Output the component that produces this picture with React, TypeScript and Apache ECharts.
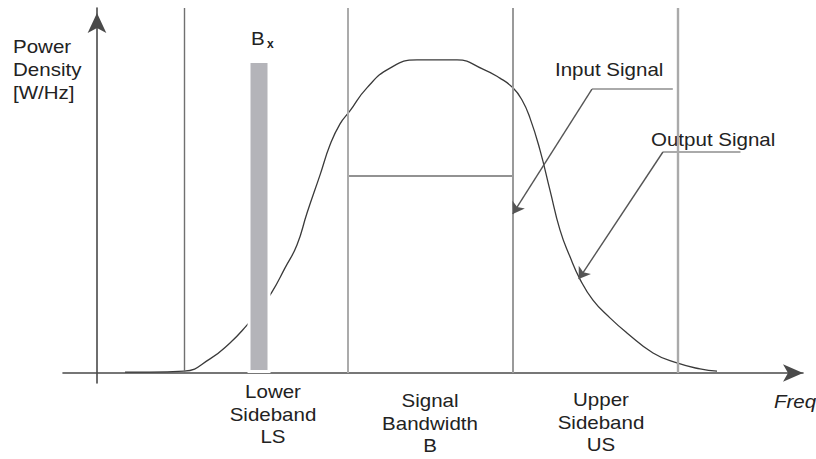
import React, { useEffect, useRef } from 'react';
import * as echarts from 'echarts';

// Output signal spectrum (frequency units, normalised power density)
const curveFreq = [1.70, 3.21, 5.27, 6.85, 8.06, 9.09, 9.88, 10.61, 11.39, 12.12, 12.73, 13.52, 14.12, 14.73, 15.33, 16.36, 17.76, 19.39, 20.61, 21.82, 23.39, 24.42, 25.21, 25.76, 26.24, 26.85, 27.45, 28.06, 28.67, 29.27, 30.06, 31.09, 32.12, 33.70, 35.15, 36.55, 37.58];
const curvePower = [0.003, 0.003, 0.006, 0.045, 0.096, 0.153, 0.204, 0.259, 0.335, 0.409, 0.511, 0.633, 0.728, 0.796, 0.837, 0.911, 0.974, 1.0, 1.0, 1.0, 0.971, 0.942, 0.911, 0.872, 0.815, 0.712, 0.585, 0.457, 0.371, 0.300, 0.233, 0.176, 0.128, 0.064, 0.032, 0.013, 0.006];

// Band edges (vertical lines)
const bandEdges = [5.3, 15.2, 25.2, 35.2];

// Bx narrow band
const bxFreq = [9.82];
const bxPower = [1.0];

// Input signal (flat level over signal bandwidth)
const inputFreq = [15.2, 25.2];
const inputPower = [0.629, 0.629];

// Annotation leaders: [leader end, corner, arrow tip]
const inputLeader = [[34.9, 0.907], [30.0, 0.907], [25.2, 0.508]];
const outputLeader = [[39.0, 0.706], [34.3, 0.706], [29.2, 0.300]];

// Axis extents
const xMin = -2.06;
const xMax = 42.79;
const yMin = -0.032;
const yMax = 1.166;

const yLabelLines = ['Power', 'Density', '[W/Hz]'];
const bandLabels = [['Lower', 'Sideband', 'LS'], ['Signal', 'Bandwidth', 'B'], ['Upper', 'Sideband', 'US']];

export default function App() {
  const ref = useRef<HTMLDivElement>(null);
  useEffect(() => {
    if (!ref.current) return;
    const chart = echarts.init(ref.current, undefined, { renderer: 'svg' });
    const font = '18px "Liberation Sans", Arial, sans-serif';
    const textColor = '#222222';
    const sx = 1.14;
    const txt = (text: string, x: number, y: number, align: string, extra: any = {}) => ({
      type: 'text',
      x,
      y,
      scaleX: sx,
      silent: true,
      style: {
        text,
        font,
        fill: textColor,
        align,
        textAlign: align,
        verticalAlign: 'middle',
        textVerticalAlign: 'middle',
        ...extra,
      },
    });

    const graphics: any[] = [];
    const yLabY = [47, 70, 93];
    yLabelLines.forEach((t, i) => graphics.push(txt(t, 13, yLabY[i], 'left')));
    const bandX = [273, 430, 601];
    const bandY = [[392, 414.5, 437], [401, 423.5, 446], [400, 422.5, 445]];
    bandLabels.forEach((lines, b) => {
      lines.forEach((t, i) => graphics.push(txt(t, bandX[b], bandY[b][i], 'center')));
    });
    graphics.push(txt('B', 251, 39, 'left'));
    graphics.push({
      type: 'text', x: 267, y: 43.5, silent: true,
      style: { text: 'x', font: 'bold 12px "Liberation Sans", Arial, sans-serif', fill: textColor, align: 'left', textAlign: 'left', verticalAlign: 'middle', textVerticalAlign: 'middle' },
    });
    graphics.push(txt('Input Signal', 555, 70, 'left'));
    graphics.push(txt('Output Signal', 651, 140, 'left'));
    graphics.push(txt('Freq', 774, 402, 'left', { font: 'italic 18px "Liberation Sans", Arial, sans-serif' }));

    const edgeStyles = [
      { color: '#707070', width: 1.4 },
      { color: '#ababab', width: 2 },
      { color: '#9a9a9a', width: 2 },
      { color: '#aaaaaa', width: 2.4 },
    ];

    const leader = (pts: number[][]) => [
      [
        { coord: pts[0], symbol: 'none', lineStyle: { color: '#aaaaaa', width: 2.2 } },
        { coord: pts[1], symbol: 'none' },
      ],
      [
        { coord: pts[1], symbol: 'none', lineStyle: { color: '#555555', width: 1.4 } },
        { coord: pts[2], symbol: 'arrow' },
      ],
    ];

    const option: any = {
      animation: false,
      grid: { left: 63, right: 13, top: 8, bottom: 76 },
      xAxis: {
        type: 'value', min: xMin, max: xMax,
        axisLine: {
          show: true, onZero: true, symbol: ['none', 'arrow'], symbolSize: [13, 20],
          lineStyle: { color: '#4a4a4a', width: 1.6 },
        },
        axisTick: { show: false }, axisLabel: { show: false }, splitLine: { show: false },
      },
      yAxis: {
        type: 'value', min: yMin, max: yMax,
        axisLine: {
          show: true, onZero: true, symbol: ['none', 'arrow'], symbolSize: [14, 20], symbolOffset: [0, -5],
          lineStyle: { color: '#4a4a4a', width: 1.6 },
        },
        axisTick: { show: false }, axisLabel: { show: false }, splitLine: { show: false },
      },
      series: [
        {
          type: 'line', name: 'Output Signal',
          data: curveFreq.map((f, i) => [f, curvePower[i]]),
          smooth: 0.5, symbol: 'none', silent: true, z: 2,
          lineStyle: { color: '#3a3a3a', width: 1.3 },
          markLine: {
            silent: true, symbol: ['none', 'none'], label: { show: false }, animation: false,
            data: bandEdges.map((e, i) => [
              { coord: [e, 0], lineStyle: { ...edgeStyles[i], type: 'solid' } },
              { coord: [e, yMax] },
            ]),
          },
        },
        {
          type: 'line', name: 'Input Signal',
          data: inputFreq.map((f, i) => [f, inputPower[i]]),
          symbol: 'none', silent: true, z: 2,
          lineStyle: { color: '#6e6e6e', width: 1.5 },
          markLine: {
            silent: true, symbolSize: 11, label: { show: false }, animation: false,
            lineStyle: { type: 'solid' },
            data: [...leader(inputLeader), ...leader(outputLeader)],
            itemStyle: { color: '#444' },
          },
        },
        {
          type: 'bar', name: 'Bx',
          data: bxFreq.map((f, i) => [f, bxPower[i]]),
          barWidth: 23, silent: true, z: 4,
          itemStyle: { color: '#b4b4b9', borderColor: '#ffffff', borderWidth: 3 },
        },
      ],
      graphic: graphics,
    };
    chart.setOption(option);
    return () => chart.dispose();
  }, []);
  return (
    <div
      ref={ref}
      style={{ position: 'absolute', left: 0, top: 0, width: 816, height: 459, background: '#fff' }}
    />
  );
}
